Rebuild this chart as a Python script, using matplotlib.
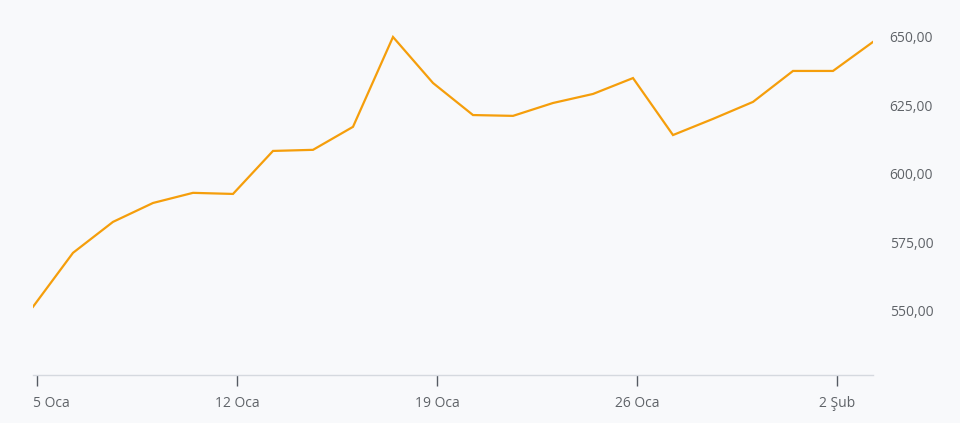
import numpy as np
import matplotlib.pyplot as plt
import matplotlib.transforms as mtransforms

# =====================
# Dados
# =====================
prices = [551.5, 571.2, 582.5, 589.4, 593.1, 592.7, 608.4, 608.8, 617.2, 650.0,
          633.2, 621.5, 621.2, 625.9, 629.2, 635.0, 614.2, 620.1, 626.3, 637.6,
          637.6, 648.2]
x = np.arange(len(prices))

tick_pos = [0.1, 5.1, 10.1, 15.1, 20.1]
tick_labels = ["5 Oca", "12 Oca", "19 Oca", "26 Oca", "2 Şub"]
y_ticks = [550, 575, 600, 625, 650]

plt.rcParams['font.family'] = ['Open Sans', 'DejaVu Sans']

bg = '#f8f9fb'
fig = plt.figure(figsize=(9.6, 4.23), dpi=100, facecolor=bg)
ax = fig.add_axes([33/960, 48/423, 840/960, 375/423], facecolor=bg)

ax.plot(x, prices, color='#f59e0b', linewidth=1.6, solid_joinstyle='miter')

ax.set_xlim(0, 21)
ax.set_ylim(526.6, 663.5)

ax.set_xticks(tick_pos)
ax.set_xticklabels(tick_labels)
ax.set_yticks(y_ticks)
ax.set_yticklabels([f"{v:.2f}".replace('.', ',') for v in y_ticks])

ax.yaxis.tick_right()
ax.tick_params(axis='y', length=0, pad=12, labelsize=10, labelcolor='#5f6368')
ax.tick_params(axis='x', length=8, width=1, color='#555b63', pad=7,
               labelsize=10, labelcolor='#5f6368', direction='out')

# primeiro rótulo alinhado à esquerda (não corta na borda)
first = ax.get_xticklabels()[0]
first.set_ha('left')
first.set_transform(first.get_transform() +
                    mtransforms.ScaledTranslation(-4/100, 0, fig.dpi_scale_trans))

for s in ['top', 'left', 'right']:
    ax.spines[s].set_visible(False)
ax.spines['bottom'].set_color('#d5d9df')
ax.spines['bottom'].set_linewidth(1)

fig.savefig('out.png', dpi=100, facecolor=bg)
